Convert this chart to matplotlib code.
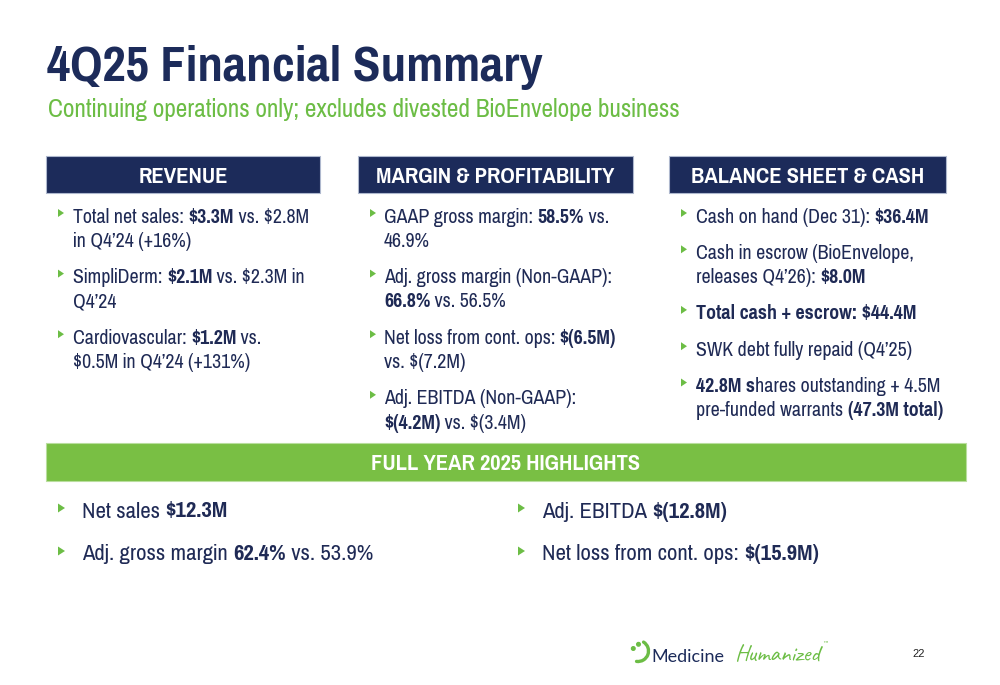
import matplotlib
matplotlib.use('Agg')
import matplotlib.pyplot as plt
from matplotlib import font_manager as fm
from matplotlib.patches import Rectangle, Polygon, Arc, Circle

# ---------------- content ----------------
TITLE = "4Q25 Financial Summary"
SUBTITLE = "Continuing operations only; excludes divested BioEnvelope business"

HEADERS = ["REVENUE", "MARGIN & PROFITABILITY", "BALANCE SHEET & CASH"]

REVENUE_BULLETS = [
    ["Total net sales: **$3.3M** vs. $2.8M", "in Q4’24 (+16%)"],
    ["SimpliDerm: **$2.1M** vs. $2.3M in", "Q4’24"],
    ["Cardiovascular: **$1.2M** vs.", "$0.5M in Q4’24 (+131%)"],
]
MARGIN_BULLETS = [
    ["GAAP gross margin: **58.5%** vs.", "46.9%"],
    ["Adj. gross margin (Non-GAAP):", "**66.8%** vs. 56.5%"],
    ["Net loss from cont. ops: **$(6.5M)**", "vs. $(7.2M)"],
    ["Adj. EBITDA (Non-GAAP):", "**$(4.2M)** vs. $(3.4M)"],
]
BALANCE_BULLETS = [
    ["Cash on hand (Dec 31): **$36.4M**"],
    ["Cash in escrow (BioEnvelope,", "releases Q4’26): **$8.0M**"],
    ["**Total cash + escrow: $44.4M**"],
    ["SWK debt fully repaid (Q4’25)"],
    ["**42.8M s**hares outstanding + 4.5M", "pre-funded warrants **(47.3M total)**"],
]

FY_HEADER = "FULL YEAR 2025 HIGHLIGHTS"
FY_LEFT = ["Net sales **$12.3M**", "Adj. gross margin **62.4%** vs. 53.9%"]
FY_RIGHT = ["Adj. EBITDA **$(12.8M)**", "Net loss from cont. ops: **$(15.9M)**"]

LOGO_WORD1 = "Medicine"
LOGO_WORD2 = "Humanized"
PAGE_NUMBER = "22"

# ---------------- style ----------------
NAVY = '#1C2B5A'
TEXT = '#1F2A55'
GREEN = '#6CBD45'
BAR_GREEN = '#79BF44'


def _w(e):
    w = e.weight
    if isinstance(w, str):
        w = fm.weight_dict.get(w, 400)
    return int(w)


ALL = fm.fontManager.ttflist
NAMES = {e.name for e in ALL}


def pick_fonts():
    entries = [e for e in ALL if e.style == 'normal']

    def pair(cond):
        reg = [e for e in entries if cond(e) and 350 <= _w(e) <= 450]
        bold = [e for e in entries if cond(e) and 650 <= _w(e) <= 750]
        if reg and bold:
            return reg[0].fname, bold[0].fname
        return None

    for nm in ['Liberation Sans Narrow', 'Arial Narrow', 'Nimbus Sans Narrow',
               'Pragati Narrow', 'Archivo Narrow', 'PT Sans Narrow',
               'Roboto Condensed']:
        p = pair(lambda e, nm=nm: e.name == nm)
        if p:
            return p
    return pair(lambda e: e.name == 'Liberation Sans')


REG_PATH, BOLD_PATH = pick_fonts()

SCRIPT = next((n for n in ['Caveat', 'Kalam', 'Shadows Into Light',
                           'Indie Flower', 'Dancing Script'] if n in NAMES), None)

fig = plt.figure(figsize=(10, 6.85), dpi=100)
ax = fig.add_axes([0, 0, 1, 1])
ax.set_xlim(0, 1000)
ax.set_ylim(685, 0)
ax.axis('off')
renderer = fig.canvas.get_renderer()


def fprop(bold, size):
    return fm.FontProperties(fname=BOLD_PATH if bold else REG_PATH, size=size)


def advance(s, bold, size, prop=None):
    p = prop if prop is not None else fprop(bold, size)
    a = renderer.get_text_width_height_descent('|' + s + '|', p, ismath=False)[0]
    b = renderer.get_text_width_height_descent('||', p, ismath=False)[0]
    return a - b


def rich_width(markup, size):
    return sum(advance(p, i % 2 == 1, size)
               for i, p in enumerate(markup.split('**')) if p)


def fit(markup, target):
    return 20.0 * target / rich_width(markup, 20.0)


def draw_rich(x, y, markup, size, color=TEXT):
    parts = markup.split('**')
    for i, p in enumerate(parts):
        if not p:
            continue
        bold = (i % 2 == 1)
        ax.text(x, y, p, fontproperties=fprop(bold, size), color=color,
                ha='left', va='baseline')
        x += advance(p, bold, size)


def triangle(x, yc, w, h):
    ax.add_patch(Polygon([[x, yc - h / 2], [x, yc + h / 2], [x + w, yc]],
                         closed=True, facecolor=GREEN, edgecolor='none'))


# font sizes fitted to the widths measured in the reference
TITLE_SIZE = fit('**' + TITLE + '**', 495)
SUB_SIZE = fit(SUBTITLE, 634)
HEAD_SIZE = fit('**MARGIN & PROFITABILITY**', 238)
TOP_SIZE = fit(REVENUE_BULLETS[0][0], 236)
FY_SIZE = fit(FY_LEFT[1], 290)

# title
ax.text(47, 81, TITLE, fontproperties=fprop(True, TITLE_SIZE),
        color=NAVY, ha='left', va='baseline')
ax.text(48, 117, SUBTITLE, fontproperties=fprop(False, SUB_SIZE),
        color=GREEN, ha='left', va='baseline')

# header boxes
boxes = [(46, 320), (358, 633), (669, 946)]
for (x0, x1), h in zip(boxes, HEADERS):
    ax.add_patch(Rectangle((x0, 156), x1 - x0, 37, facecolor=NAVY,
                           edgecolor='#AEB8CE', linewidth=0.8))
    ax.text((x0 + x1) / 2, 182.5, h, fontproperties=fprop(True, HEAD_SIZE),
            color='white', ha='center', va='baseline')

# column bullets
LINE = 24.3
GAP = 12
columns = [(58, 73, REVENUE_BULLETS), (370, 384, MARGIN_BULLETS),
           (681, 696, BALANCE_BULLETS)]
for tx, x, bullets in columns:
    y = 222.5
    for lines in bullets:
        triangle(tx, y - 9.5, 6, 8)
        for j, ln in enumerate(lines):
            draw_rich(x, y + j * LINE, ln, TOP_SIZE)
        y += len(lines) * LINE + GAP

# full year bar
ax.add_patch(Rectangle((46, 443), 920, 38, facecolor=BAR_GREEN,
                       edgecolor='#B9DE9E', linewidth=0.8))
ax.text(506, 469.5, FY_HEADER, fontproperties=fprop(True, HEAD_SIZE),
        color='white', ha='center', va='baseline')

for tx, x, items in [(58, 82, FY_LEFT), (518, 542, FY_RIGHT)]:
    for j, item in enumerate(items):
        yb = 517.5 + j * 43
        triangle(tx, yb - 9.5, 7, 9)
        draw_rich(x, yb, item, FY_SIZE)

# logo
ax.add_patch(Arc((638, 651), 21, 21, theta1=-58, theta2=98,
                  color=GREEN, linewidth=2.4, capstyle='round'))
ax.add_patch(Circle((633.3, 648.5), 1.8, color=GREEN))
ax.add_patch(Circle((638.5, 644.3), 1.8, color=GREEN))
ax.text(651, 662, LOGO_WORD1, fontsize=13, family='Lato', color=NAVY,
        ha='left', va='baseline')
if SCRIPT:
    hp = fm.FontProperties(family=SCRIPT, weight='normal', size=20)
else:
    hp = fm.FontProperties(family='Lato', style='italic', size=20)
hp.set_size(20 * 86 / advance(LOGO_WORD2, False, 20, hp))
ax.text(734, 661, LOGO_WORD2, fontproperties=hp, color=GREEN,
        ha='left', va='baseline')
tm_x = 734 + advance(LOGO_WORD2, False, 0, hp) + 2
ax.text(tm_x, 646, '™', fontsize=4.5, family='DejaVu Sans', color=GREEN,
        ha='left', va='baseline')
ax.text(912, 657, PAGE_NUMBER, fontsize=8, family='Liberation Sans',
        color='#222222', ha='left', va='baseline')

fig.savefig('out.png', dpi=100)
